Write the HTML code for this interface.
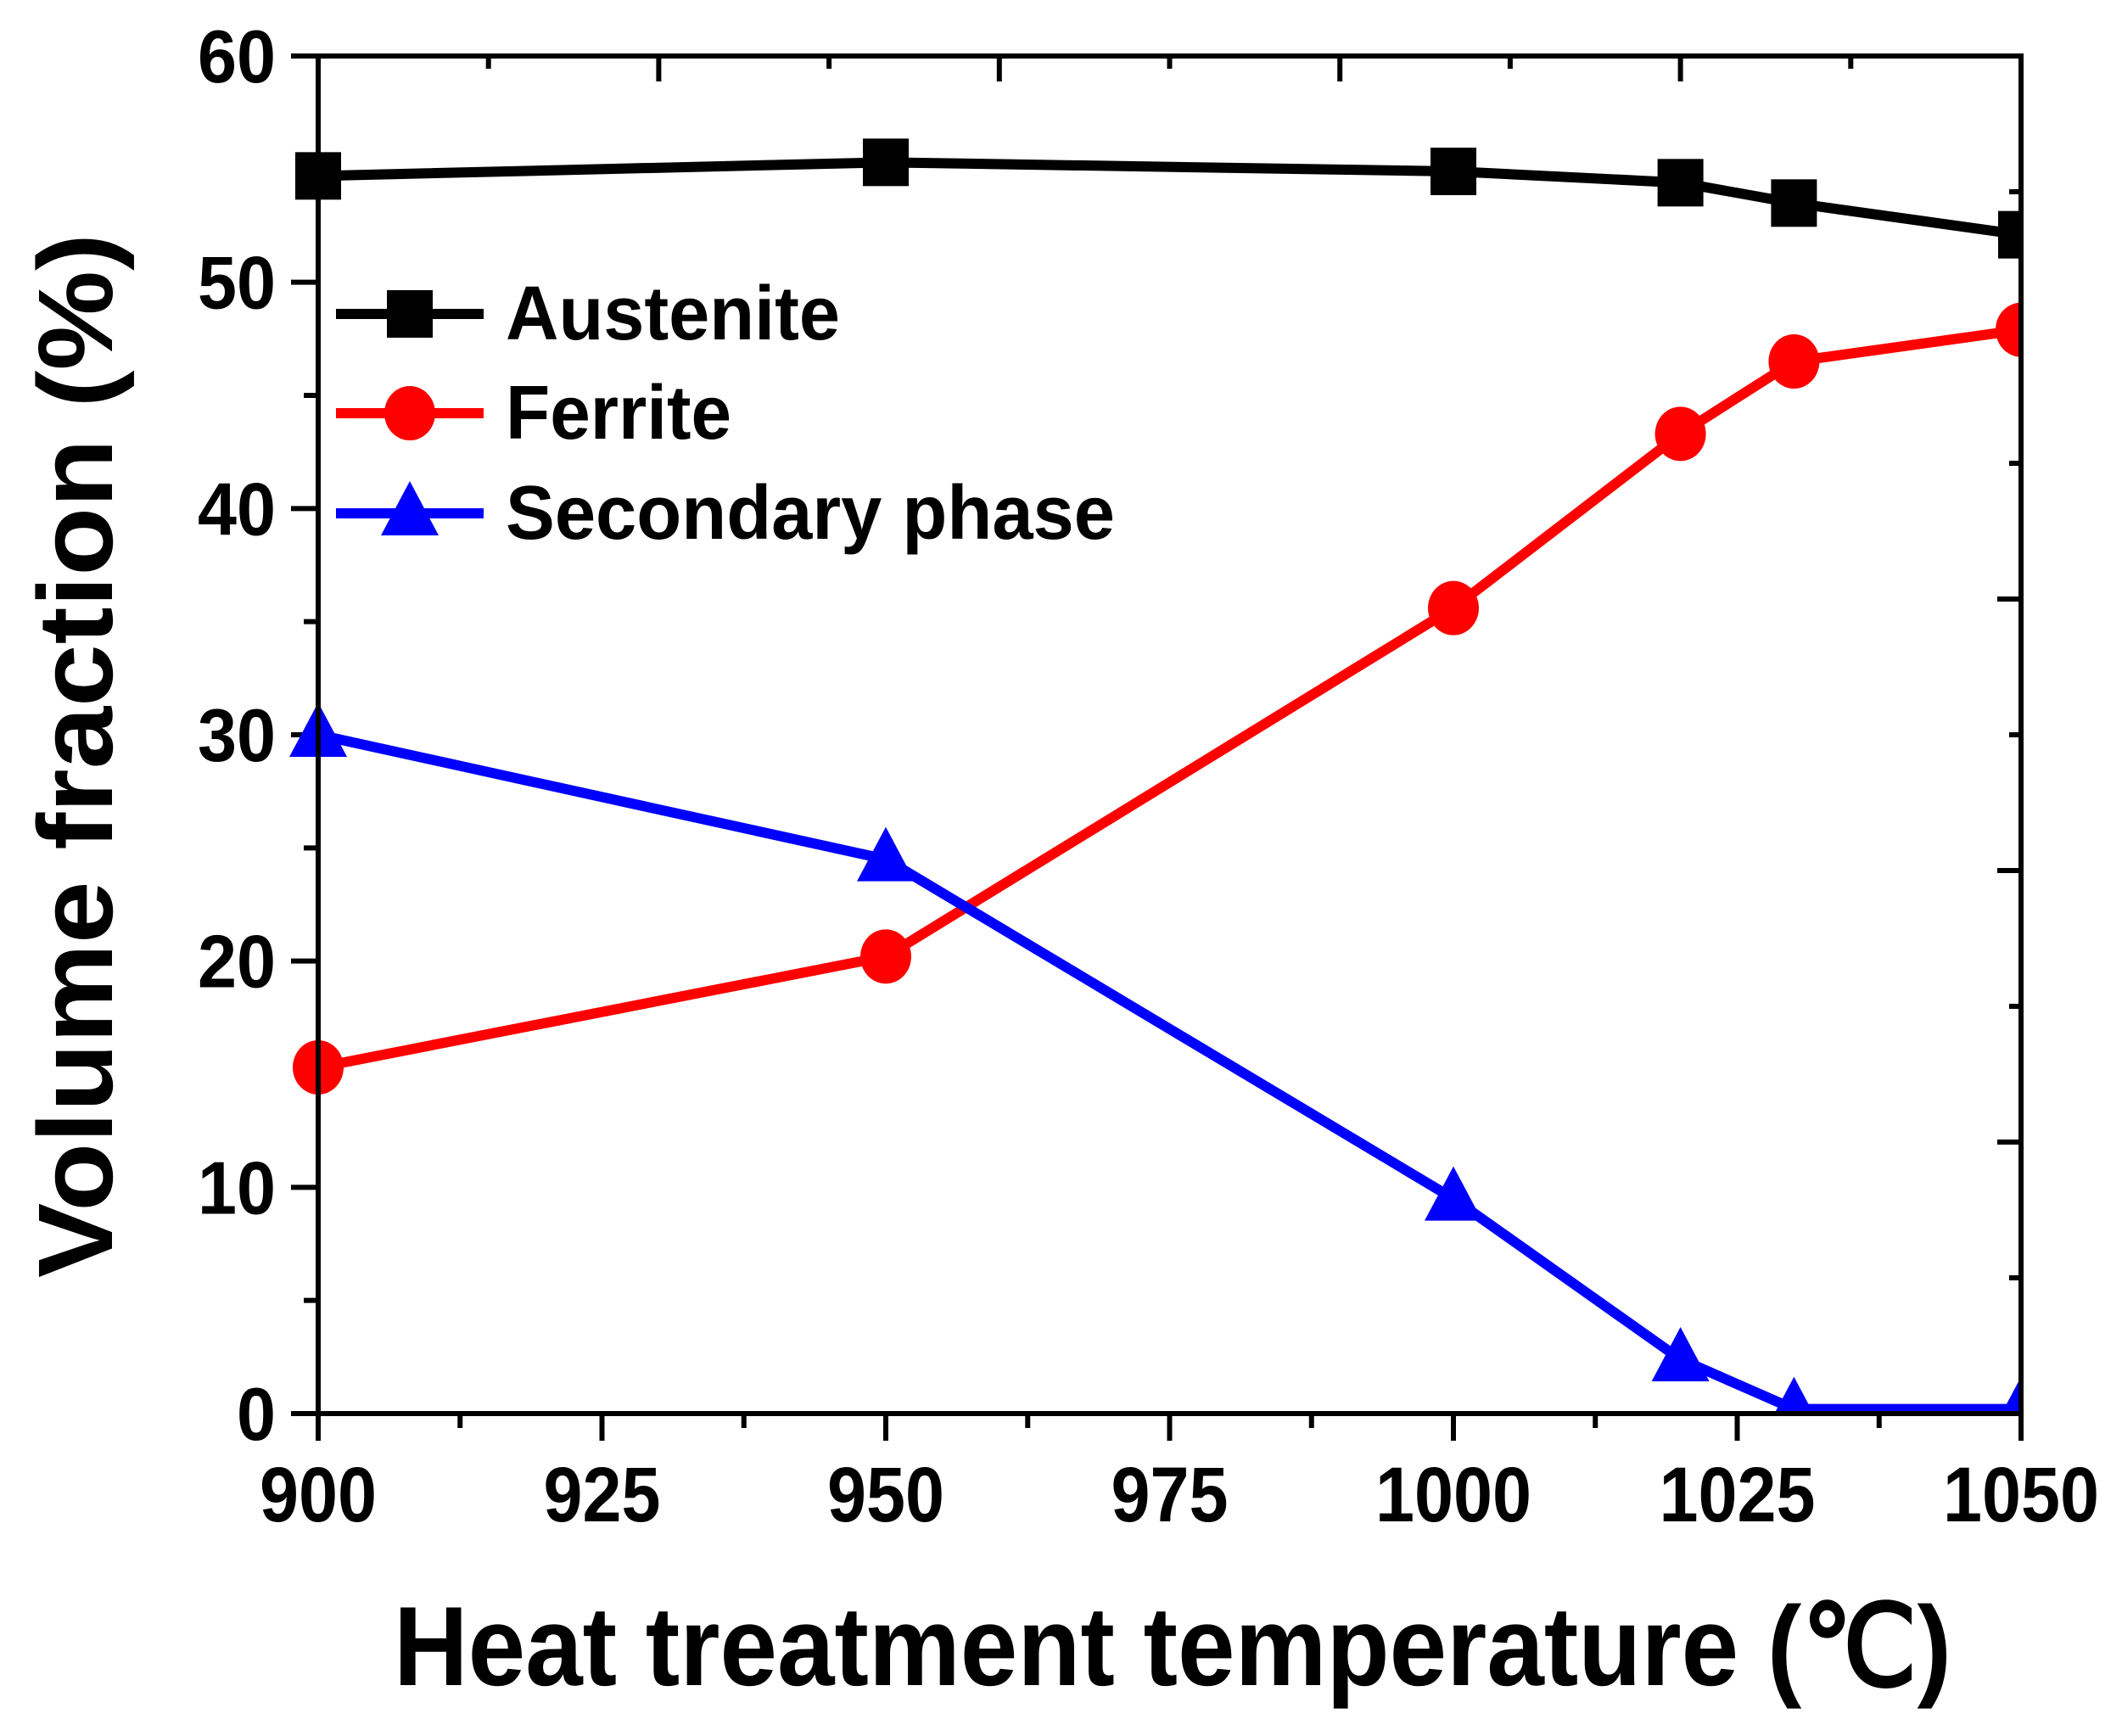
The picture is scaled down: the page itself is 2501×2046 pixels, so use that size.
<!DOCTYPE html>
<html><head><meta charset="utf-8"><style>
html,body{margin:0;padding:0;background:#fff}
svg{display:block}
text{font-family:"Liberation Sans",Arial,sans-serif;font-weight:bold;fill:#000}
</style></head><body>
<svg id="chart" width="2501" height="2046" viewBox="0 0 2501 2046" xmlns="http://www.w3.org/2000/svg">
<g id="grid"></g>
<g id="series"></g>
<g id="legend"></g>
<text x="464" y="1986" font-size="133" textLength="1836" lengthAdjust="spacingAndGlyphs">Heat treatment temperature (℃)</text>
<text transform="translate(132,1506) rotate(-90)" x="0" y="0" font-size="125" textLength="1231" lengthAdjust="spacingAndGlyphs">Volume fraction (%)</text>
</svg>
<script>
const temperatures = [900, 950, 1000, 1020, 1030, 1050];
const austenite = [54.7, 55.3, 54.9, 54.4, 53.5, 52.1];
const ferrite = [15.3, 20.2, 35.6, 43.3, 46.5, 47.9];
const secondary = [30.0, 24.5, 9.5, 2.4, 0.2, 0.2];
const xTicks = [900, 925, 950, 975, 1000, 1025, 1050];
const yTicks = [0, 10, 20, 30, 40, 50, 60];
const seriesNames = ["Austenite", "Ferrite", "Secondary phase"];

const NS = "http://www.w3.org/2000/svg";
const L = 375, R = 2382, T = 66, B = 1666;
const xMin = 900, xMax = 1050, yMin = 0, yMax = 60;
function xs(v){ return L + (v - xMin) / (xMax - xMin) * (R - L); }
function ys(v){ return B - (v - yMin) / (yMax - yMin) * (B - T); }
function mk(tag, attrs, parent){
  const e = document.createElementNS(NS, tag);
  for (const k in attrs) e.setAttribute(k, attrs[k]);
  parent.appendChild(e);
  return e;
}
const grid = document.getElementById('grid');
const series = document.getElementById('series');
const legend = document.getElementById('legend');

const frame = mk('rect', {x:L, y:T, width:R-L, height:B-T, fill:'none', stroke:'#000', 'stroke-width':6}, grid);



for (let i = 0; i < xTicks.length; i++) {
  const x = xs(xTicks[i]);
  const t = mk('line', {x1:x, y1:B, x2:x, y2:B+32, stroke:'#000', 'stroke-width':6}, grid);
  
  
  if (i < xTicks.length - 1) {
    const xm = xs((xTicks[i] + xTicks[i+1]) / 2);
    const m = mk('line', {x1:xm, y1:B, x2:xm, y2:B+17, stroke:'#000', 'stroke-width':6}, grid);
    
    
  }
  const s = String(xTicks[i]);
  const lab = mk('text', {x:x, y:1793, 'font-size':92, 'text-anchor':'middle', textLength: s.length*46, lengthAdjust:'spacingAndGlyphs'}, grid);
  lab.textContent = s;
  
  
}
for (let i = 0; i < yTicks.length; i++) {
  const y = ys(yTicks[i]);
  const t = mk('line', {x1:L-32, y1:y, x2:L, y2:y, stroke:'#000', 'stroke-width':6}, grid);
  
  
  if (i < yTicks.length - 1) {
    const ym = ys((yTicks[i] + yTicks[i+1]) / 2);
    const m = mk('line', {x1:L-17, y1:ym, x2:L, y2:ym, stroke:'#000', 'stroke-width':6}, grid);
    
    
  }
  const s = String(yTicks[i]);
  const lab = mk('text', {x:325, y:y+31, 'font-size':88, 'text-anchor':'end', textLength: s.length*46, lengthAdjust:'spacingAndGlyphs'}, grid);
  lab.textContent = s;
  
  
}
for (let k = 1; k < 10; k++) {
  const x = L + k * (R - L) / 10;
  const len = (k % 2 === 0) ? 30 : 15;
  const t = mk('line', {x1:x, y1:T, x2:x, y2:T+len, stroke:'#000', 'stroke-width':6}, grid);
  
  
}
for (let k = 1; k < 10; k++) {
  const y = B - k * (B - T) / 10;
  const len = (k % 2 === 0) ? 28 : 14;
  const t = mk('line', {x1:R-len, y1:y, x2:R, y2:y, stroke:'#000', 'stroke-width':6}, grid);
  
  
}

const colors = ['#000000', '#ff0000', '#0000ff'];
const data = [austenite, ferrite, secondary];
function marker(kind, cx, cy, color, parent){
  let e;
  if (kind === 0) e = mk('rect', {x:cx-27, y:cy-28, width:54, height:56, fill:color}, parent);
  else if (kind === 1) e = mk('ellipse', {cx:cx, cy:cy, rx:30, ry:32, fill:color}, parent);
  else e = mk('polygon', {points:`${cx},${cy-38} ${cx-34},${cy+26} ${cx+34},${cy+26}`, fill:color}, parent);
  return e;
}
const clip = mk('clipPath', {id:'pc'}, series);
mk('rect', {x:L-60, y:0, width:R-L+63, height:B+3}, clip);
const plotG = mk('g', {'clip-path':'url(#pc)'}, series);
for (let s = 0; s < data.length; s++) {
  const pts = temperatures.map((t, i) => xs(t) + ',' + ys(data[s][i])).join(' ');
  const line = mk('polyline', {points:pts, fill:'none', stroke:colors[s], 'stroke-width':12, 'stroke-linejoin':'round'}, plotG);
  
  
  for (let i = 0; i < temperatures.length; i++) {
    const m = marker(s, xs(temperatures[i]), ys(data[s][i]), colors[s], plotG);
    
    
  }
}
const frame2 = mk('rect', {x:L, y:T, width:R-L, height:B-T, fill:'none', stroke:'#000', 'stroke-width':6}, series);



const legY = [370, 487, 605];
const legW = [394, 266, 718];
for (let s = 0; s < seriesNames.length; s++) {
  const ln = mk('line', {x1:396, y1:legY[s], x2:570, y2:legY[s], stroke:colors[s], 'stroke-width':12}, legend);
  
  
  const m = marker(s, 483, legY[s], colors[s], legend);
  
  
  const tx = mk('text', {x:596, y:legY[s]+30, 'font-size':90, textLength:legW[s], lengthAdjust:'spacingAndGlyphs'}, legend);
  tx.textContent = seriesNames[s];
  
  
}
</script>
</body></html>
